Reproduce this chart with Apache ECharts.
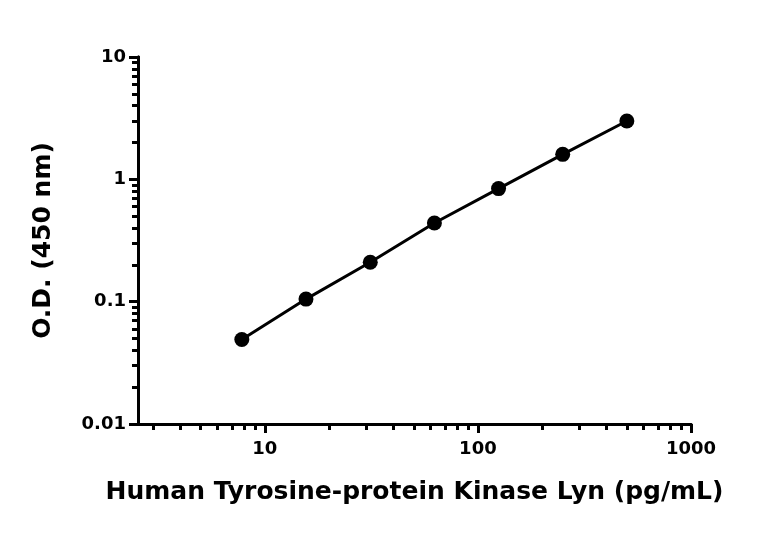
<!DOCTYPE html>
<html><head><meta charset="utf-8">
<script src="https://cdn.jsdelivr.net/npm/echarts@6/dist/echarts.min.js"></script>
<style>html,body{margin:0;padding:0;background:#fff}#c{width:768px;height:534px}</style>
</head><body><div id="c"></div>
<script>
const concentrations = [7.8, 15.6, 31.25, 62.5, 125, 250, 500];
const odValues = [0.049, 0.105, 0.21, 0.44, 0.84, 1.6, 3.0];
const xMajorTicks = [10, 100, 1000];
const yMajorTicks = [0.01, 0.1, 1, 10];
const xMin = 2.54, xMax = 1000, yMin = 0.01, yMax = 10;

const L = Math.log10;
function minors(lo, hi) {
  const out = [];
  for (let d = Math.floor(L(lo)); d < Math.ceil(L(hi)); d++) {
    for (let m = 2; m <= 9; m++) {
      const v = m * Math.pow(10, d);
      if (v > lo && v < hi) out.push(L(v));
    }
  }
  return out;
}
const fmt = v => { const r = Math.pow(10, v); return String(parseFloat(r.toPrecision(3))); };
const font = '"DejaVu Sans", sans-serif';
const axisBase = {
  type: 'value',
  axisLine: { show: true, onZero: false, lineStyle: { color: '#000', width: 3 } },
  splitLine: { show: false }
};
const chart = echarts.init(document.getElementById('c'));
chart.setOption({
  animation: false,
  grid: { left: 138, right: 77, top: 57, bottom: 110 },
  xAxis: [
    Object.assign({}, axisBase, {
      min: L(xMin), max: L(xMax),
      name: 'Human Tyrosine-protein Kinase Lyn (pg/mL)', nameLocation: 'middle', nameGap: 56,
      nameTextStyle: { fontFamily: font, fontWeight: 'bold', fontSize: 25, color: '#000' },
      axisTick: { show: true, length: 9, lineStyle: { color: '#000', width: 3 }, customValues: xMajorTicks.map(L) },
      axisLabel: { fontFamily: font, fontSize: 18, fontWeight: 'bold', color: '#000', margin: 16, customValues: xMajorTicks.map(L), formatter: fmt }
    }),
    Object.assign({}, axisBase, {
      min: L(xMin), max: L(xMax), position: 'bottom',
      axisTick: { show: true, length: 6, lineStyle: { color: '#000', width: 3 }, customValues: minors(xMin, xMax) },
      axisLabel: { show: false }
    })
  ],
  yAxis: [
    Object.assign({}, axisBase, {
      min: L(yMin), max: L(yMax),
      name: 'O.D. (450 nm)', nameLocation: 'middle', nameGap: 82,
      nameTextStyle: { fontFamily: font, fontWeight: 'bold', fontSize: 25, color: '#000' },
      axisTick: { show: true, length: 9, lineStyle: { color: '#000', width: 3 }, customValues: yMajorTicks.map(L) },
      axisLabel: { fontFamily: font, fontSize: 18, fontWeight: 'bold', color: '#000', margin: 12, customValues: yMajorTicks.map(L), formatter: fmt }
    }),
    Object.assign({}, axisBase, {
      min: L(yMin), max: L(yMax), position: 'left',
      axisTick: { show: true, length: 6, lineStyle: { color: '#000', width: 3 }, customValues: minors(yMin, yMax) },
      axisLabel: { show: false }
    })
  ],
  series: [{
    type: 'line',
    data: concentrations.map((c, i) => [L(c), L(odValues[i])]),
    symbol: 'circle', symbolSize: 15,
    itemStyle: { color: '#000' },
    lineStyle: { color: '#000', width: 3 }
  }]
});
</script></body></html>
